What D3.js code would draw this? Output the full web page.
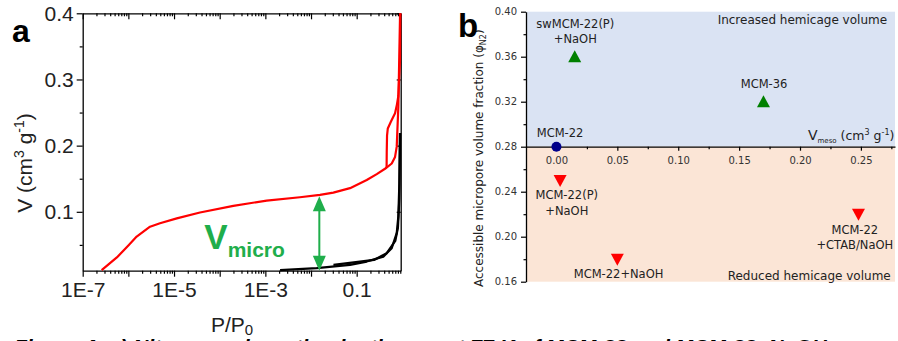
<!DOCTYPE html>
<html><head><meta charset="utf-8">
<script src="https://cdn.jsdelivr.net/npm/d3@7"></script>
<style>
html,body{margin:0;padding:0;background:#fff;}
svg{display:block;}
</style></head>
<body>
<svg id="c" width="898" height="341"></svg>
<script>
// ---------- Panel a data (P/P0, V cm3/g) ----------
const redAdsP = [2.6e-7,5.6e-7,1.0e-6,1.52e-6,2.98e-6,4.93e-6,1.15e-5,3.7e-5,1.99e-4,1.07e-3,5.7e-3,0.0157,0.0308,0.0714,0.166,0.275,0.417,0.585,0.692,0.753,0.817,0.889,0.90];
const redAdsV = [0.012,0.031,0.049,0.0625,0.0775,0.0827,0.090,0.099,0.109,0.117,0.122,0.1256,0.129,0.1357,0.148,0.157,0.165,0.173,0.183,0.1985,0.259,0.395,0.40];
const redDesP = [0.90,0.889,0.817,0.76,0.692,0.56,0.48,0.462,0.455,0.452,0.43];
const redDesV = [0.40,0.33,0.275,0.262,0.249,0.236,0.226,0.215,0.19,0.168,0.166];
const blackAdsP = [2.1e-3,0.0133,0.0714,0.166,0.383,0.585,0.753,0.817,0.859,0.889];
const blackAdsV = [0.012,0.0148,0.0198,0.0248,0.0323,0.045,0.0677,0.093,0.143,0.219];
const blackDesP = [0.889,0.86,0.80,0.70,0.455,0.24,0.031];
const blackDesV = [0.219,0.12,0.076,0.056,0.0375,0.0273,0.0198];
const aXTicks = [1e-7,1e-5,1e-3,1e-1];
const aXTickLabels = ["1E-7","1E-5","1E-3","0.1"];
const aYTicks = [0.1,0.2,0.3,0.4];
const arrowP = 0.0152, arrowTopV = 0.1235;

// ---------- Panel b data ----------
const bNames = ["MCM-22","swMCM-22(P)+NaOH","MCM-36","MCM-22(P)+NaOH","MCM-22+NaOH","MCM-22+CTAB/NaOH"];
const bVmeso = [0.0,0.015,0.17,0.003,0.05,0.248];
const bPhi = [0.28,0.36,0.32,0.25,0.18,0.22];
const bShape = ["circle","up","up","down","down","down"];
const bXTicks = [0,0.05,0.10,0.15,0.20,0.25];
const bYTicks = [0.16,0.20,0.24,0.28,0.32,0.36,0.40];

const svg = d3.select("#c");
const FA = "'Liberation Sans', Arial, sans-serif";
const FB = "'DejaVu Sans', Verdana, sans-serif";

// ================= Panel a =================
const xA = d3.scaleLog().domain([1e-7, 0.92]).range([82.7, 400.7]);
const yA = d3.scaleLinear().domain([0.011, 0.4]).range([270.7, 13.3]);
const gA = svg.append("g");

const minorA = [];
for (let e = -7; e <= -1; e++) for (let k = 2; k <= 9; k++) { const v = k*Math.pow(10,e); if (v < 0.92) minorA.push(v); }
const majorA = d3.range(-7, 0).map(e => Math.pow(10, e));

function styleAxis(g, font, size, color){
  g.selectAll("path").attr("stroke","#000").attr("stroke-width",1.3);
  g.selectAll("line").attr("stroke","#000").attr("stroke-width",1.2);
  g.selectAll("text").attr("font-family",font).attr("font-size",size).attr("fill",color);
}
let ax = gA.append("g").attr("transform","translate(0,270.7)")
  .call(d3.axisBottom(xA).tickValues(majorA).tickFormat(d => { const i = aXTicks.findIndex(t => Math.abs(t-d)/d < 1e-6); return i>=0 ? aXTickLabels[i] : ""; }).tickSize(6).tickSizeOuter(0).tickPadding(5));
styleAxis(ax, FA, 21, "#222");
ax = gA.append("g").attr("transform","translate(0,270.7)")
  .call(d3.axisBottom(xA).tickValues(minorA).tickFormat("").tickSize(3).tickSizeOuter(0));
styleAxis(ax, FA, 21, "#222"); ax.select("path").remove();
ax = gA.append("g").attr("transform","translate(0,13.3)")
  .call(d3.axisBottom(xA).tickValues(majorA).tickFormat("").tickSize(6).tickSizeOuter(0));
styleAxis(ax, FA, 21, "#222");
ax = gA.append("g").attr("transform","translate(0,13.3)")
  .call(d3.axisBottom(xA).tickValues(minorA).tickFormat("").tickSize(3).tickSizeOuter(0));
styleAxis(ax, FA, 21, "#222"); ax.select("path").remove();
ax = gA.append("g").attr("transform","translate(82.7,0)")
  .call(d3.axisLeft(yA).tickValues(aYTicks).tickFormat(d3.format(".1f")).tickSize(6).tickSizeOuter(0).tickPadding(3));
styleAxis(ax, FA, 21, "#222");
ax = gA.append("g").attr("transform","translate(82.7,0)")
  .call(d3.axisLeft(yA).tickValues([0.05,0.15,0.25,0.35]).tickFormat("").tickSize(3).tickSizeOuter(0));
styleAxis(ax, FA, 21, "#222"); ax.select("path").remove();
ax = gA.append("g").attr("transform","translate(400.7,0)")
  .call(d3.axisLeft(yA).tickValues(aYTicks).tickFormat("").tickSize(4).tickSizeOuter(0));
styleAxis(ax, FA, 21, "#222");

const lineA = d3.line().x(d => xA(d[0])).y(d => yA(d[1]));
const zipA = (P, V) => P.map((p,i) => [p, V[i]]);
[[blackAdsP,blackAdsV,"#000"],[blackDesP,blackDesV,"#000"],[redAdsP,redAdsV,"#ff0000"],[redDesP,redDesV,"#ff0000"]].forEach(([P,V,c]) => {
  gA.append("path").datum(zipA(P,V)).attr("d", lineA).attr("fill","none").attr("stroke",c).attr("stroke-width",2.2).attr("stroke-linejoin","round");
});

// green arrow
const gCol = "#1fae4b";
const axX = xA(arrowP), yTop = yA(arrowTopV), yBot = yA(0.011);
gA.append("line").attr("x1",axX).attr("x2",axX).attr("y1",yTop+10).attr("y2",yBot-10).attr("stroke",gCol).attr("stroke-width",2);
gA.append("path").attr("d",`M${axX},${yTop} L${axX-6.5},${yTop+15} L${axX+6.5},${yTop+15} Z`).attr("fill",gCol);
gA.append("path").attr("d",`M${axX},${yBot} L${axX-6.5},${yBot-15} L${axX+6.5},${yBot-15} Z`).attr("fill",gCol);
const vt = gA.append("text").attr("x", xA(4.6e-5)).attr("y", yA(0.044)).attr("font-family",FA).attr("font-weight","bold").attr("fill",gCol);
vt.append("tspan").attr("font-size",35).text("V");
vt.append("tspan").attr("font-size",21).attr("dy",8).text("micro");

svg.append("text").attr("x",12).attr("y",42).attr("font-family",FA).attr("font-weight","bold").attr("font-size",32).attr("fill","#000").text("a");
const yl = svg.append("text").attr("transform","translate(32,163) rotate(-90)").attr("text-anchor","middle").attr("font-family",FA).attr("font-size",21).attr("fill","#222");
yl.append("tspan").text("V (cm");
yl.append("tspan").attr("font-size",14).attr("dy",-8).text("3");
yl.append("tspan").attr("dy",8).text(" g");
yl.append("tspan").attr("font-size",14).attr("dy",-8).text("-1");
yl.append("tspan").attr("dy",8).text(")");
const xl = svg.append("text").attr("x",xA(1.86e-4)).attr("y",332).attr("text-anchor","middle").attr("font-family",FA).attr("font-size",21).attr("fill","#222");
xl.append("tspan").text("P/P");
xl.append("tspan").attr("font-size",15).attr("dy",3).text("0");

// caption (cut off at the bottom edge as in the source)
svg.append("text").attr("x",14).attr("y",353.5).attr("font-family",FA).attr("font-size",21).attr("font-weight","bold").attr("font-style","italic").attr("fill","#000")
  .text("Figure 4: a) Nitrogen adsorption isotherms at 77 K of MCM-22 and MCM-22+NaOH");

// ================= Panel b =================
const xB = d3.scaleLinear().domain([-0.025, 0.278]).range([526, 895]);
const yB = d3.scaleLinear().domain([0.16, 0.40]).range([281.7, 11.7]);
const gB = svg.append("g");
gB.append("rect").attr("x",xB(-0.025)).attr("y",yB(0.40)).attr("width",xB(0.278)-xB(-0.025)).attr("height",yB(0.28)-yB(0.40)).attr("fill","#dae3f3");
gB.append("rect").attr("x",xB(-0.025)).attr("y",yB(0.28)).attr("width",xB(0.278)-xB(-0.025)).attr("height",yB(0.16)-yB(0.28)).attr("fill","#fbe5d6");

ax = gB.append("g").attr("transform",`translate(0,${yB(0.28)})`)
  .call(d3.axisBottom(xB).tickValues(bXTicks).tickFormat(d3.format(".2f")).tickSize(4).tickSizeOuter(0).tickPadding(6));
styleAxis(ax, FB, 10, "#333");
ax = gB.append("g").attr("transform",`translate(0,${yB(0.28)})`)
  .call(d3.axisBottom(xB).tickValues([0.025,0.075,0.125,0.175,0.225,0.275]).tickFormat("").tickSize(2.5).tickSizeOuter(0));
styleAxis(ax, FB, 10, "#333"); ax.select("path").remove();
ax = gB.append("g").attr("transform",`translate(${xB(-0.025)},0)`)
  .call(d3.axisLeft(yB).tickValues(bYTicks).tickFormat(d3.format(".2f")).tickSize(5).tickSizeOuter(0).tickPadding(4));
styleAxis(ax, FB, 10, "#333");
ax = gB.append("g").attr("transform",`translate(${xB(-0.025)},0)`)
  .call(d3.axisLeft(yB).tickValues([0.18,0.22,0.26,0.30,0.34,0.38]).tickFormat("").tickSize(2.5).tickSizeOuter(0));
styleAxis(ax, FB, 10, "#333"); ax.select("path").remove();

bNames.forEach((n,i) => {
  const cx = xB(bVmeso[i]), cy = yB(bPhi[i]);
  if (bShape[i] === "circle") gB.append("circle").attr("cx",cx).attr("cy",cy).attr("r",5).attr("fill","#00008b");
  else if (bShape[i] === "up") gB.append("path").attr("d",`M${cx},${cy-6.5} L${cx-6.5},${cy+5.5} L${cx+6.5},${cy+5.5} Z`).attr("fill","#008000");
  else gB.append("path").attr("d",`M${cx},${cy+6.5} L${cx-6.5},${cy-5.5} L${cx+6.5},${cy-5.5} Z`).attr("fill","#ff0000");
});

function lbl(lines, x, y, anchor, size){
  const t = gB.append("text").attr("font-family",FB).attr("font-size",size||11.5).attr("fill","#222").attr("text-anchor",anchor||"middle");
  lines.forEach((s,k) => t.append("tspan").attr("x",x).attr("y",y + k*15.3).text(s));
}
lbl(["swMCM-22(P)","+NaOH"], xB(0.0155), yB(0.3855));
lbl(["MCM-36"], xB(0.1705), yB(0.3322));
lbl(["MCM-22"], xB(0.003), yB(0.2886));
lbl(["MCM-22(P)","+NaOH"], xB(0.0085), yB(0.2332));
lbl(["MCM-22+NaOH"], xB(0.051), yB(0.163));
lbl(["MCM-22","+CTAB/NaOH"], xB(0.245), yB(0.2024));
lbl(["Increased hemicage volume"], xB(0.2715), yB(0.389), "end", 12);
lbl(["Reduced hemicage volume"], xB(0.2745), yB(0.1615), "end", 12);

const vm = gB.append("text").attr("x",xB(0.2775)).attr("y",yB(0.286)).attr("text-anchor","end").attr("font-family",FB).attr("font-size",12.5).attr("fill","#222");
vm.append("tspan").attr("font-size",14).text("V");
vm.append("tspan").attr("font-size",7).attr("dy",3).text("meso");
vm.append("tspan").attr("dy",-3).text(" (cm");
vm.append("tspan").attr("font-size",8).attr("dy",-5).text("3");
vm.append("tspan").attr("dy",5).text(" g");
vm.append("tspan").attr("font-size",8).attr("dy",-5).text("-1");
vm.append("tspan").attr("dy",5).text(")");

const byl = svg.append("text").attr("transform","translate(483,287) rotate(-90)").attr("text-anchor","start").attr("font-family",FB).attr("font-size",12).attr("fill","#222");
byl.append("tspan").text("Accessible micropore volume fraction (φ");
byl.append("tspan").attr("font-size",8).attr("dy",3).text("N2");
byl.append("tspan").attr("dy",-3).text(")");

svg.append("text").attr("x",458).attr("y",37).attr("font-family",FA).attr("font-weight","bold").attr("font-size",33).attr("fill","#000").text("b");
</script>
</body></html>
